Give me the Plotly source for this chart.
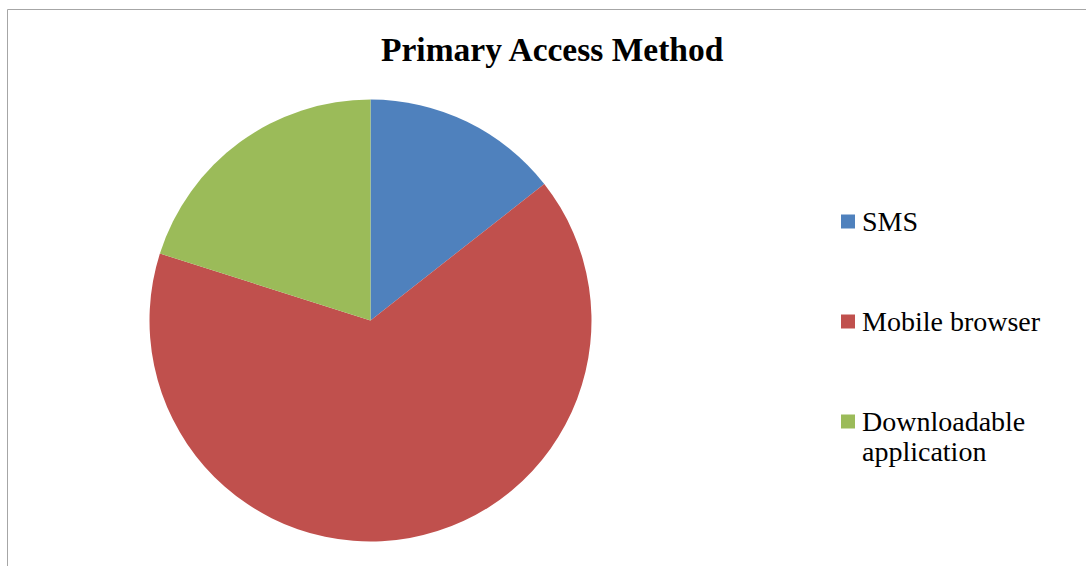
import plotly.graph_objects as go

W, H = 1086, 566

categories = ["SMS", "Mobile browser", "Downloadable application"]
values = [14.4, 65.5, 20.1]
colors = ["#4F81BD", "#C0504D", "#9BBB59"]
title_text = "Primary Access Method"

def px_x(x):
    return x / W

def px_y(y):
    return 1 - y / H

fig = go.Figure()
fig.add_trace(go.Pie(
    labels=categories,
    values=values,
    sort=False,
    direction="clockwise",
    rotation=0,
    marker=dict(colors=colors, line=dict(width=0)),
    textinfo="none",
    showlegend=False,
    domain=dict(x=[px_x(149.5), px_x(591.5)], y=[px_y(541.5), px_y(99.5)]),
))

shapes = [dict(type="rect", xref="paper", yref="paper",
               x0=px_x(7.5), x1=1.05, y0=-0.05, y1=px_y(9.5),
               line=dict(color="#A6A6A6", width=1), fillcolor="rgba(0,0,0,0)")]
annotations = []

legend_font = dict(family="Liberation Serif", size=28, color="#000000")
line_h = 30
item_y = [221.5, 321.5, 421.5]
for name, col, yc in zip(categories, colors, item_y):
    shapes.append(dict(type="rect", xref="paper", yref="paper",
                       x0=px_x(841), x1=px_x(855),
                       y0=px_y(yc + 7), y1=px_y(yc - 7),
                       fillcolor=col, line=dict(width=0)))
    lines = name.split(" ", 1) if len(name) > 16 else [name]
    for i, ln in enumerate(lines):
        annotations.append(dict(xref="paper", yref="paper", x=px_x(860), y=px_y(yc + i * line_h),
                                xanchor="left", yanchor="middle", align="left",
                                text=ln, showarrow=False, font=legend_font))

annotations.append(dict(xref="paper", yref="paper", x=px_x(552.5), y=px_y(50),
                        xanchor="center", yanchor="middle", text="<b>" + title_text + "</b>",
                        showarrow=False,
                        font=dict(family="Liberation Serif", size=33.5, color="#000000")))

fig.update_layout(
    width=W, height=H,
    margin=dict(l=0, r=0, t=0, b=0),
    paper_bgcolor="#FFFFFF",
    plot_bgcolor="#FFFFFF",
    shapes=shapes,
    annotations=annotations,
    showlegend=False,
)

fig.write_html("out.html")
